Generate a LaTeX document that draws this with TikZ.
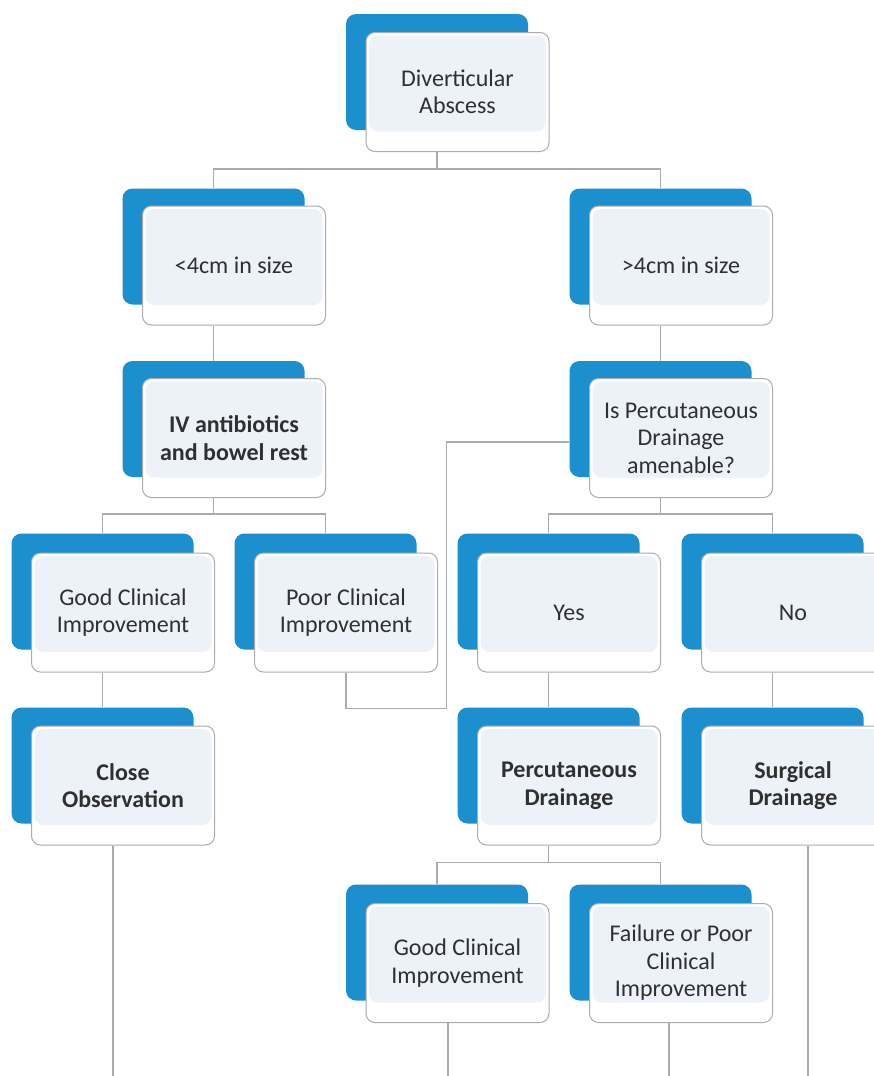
\documentclass[tikz,border=0pt]{standalone}
\usepackage{fontspec}
\setmainfont{Carlito}
\usetikzlibrary{positioning}
\definecolor{blueback}{RGB}{28,143,207}
\definecolor{cardfill}{RGB}{237,242,249}
\definecolor{cardline}{RGB}{172,172,172}
\definecolor{linkgray}{RGB}{168,172,176}
\definecolor{txt}{RGB}{48,48,48}

\begin{document}
\begin{tikzpicture}[x=1pt, y=-1pt, auto]
		% Define elements
		\tikzstyle{line} = [draw=linkgray, line width=1.3pt]
		\tikzstyle{back} = [rectangle, fill=blueback, rounded corners=10pt,
		    minimum width=182pt, minimum height=116pt, inner sep=0pt]
		\tikzstyle{card} = [rectangle, draw=cardline, line width=1pt, fill=white, rounded corners=9pt,
		    minimum width=183pt, minimum height=119pt, inner sep=0pt, align=center, text=txt,
		    font=\fontsize{24}{27.5}\selectfont,
		    path picture={\fill[cardfill] ([shift={(3pt,-3pt)}]path picture bounding box.north west)
		        rectangle ([shift={(-3pt,20pt)}]path picture bounding box.south east);}]
		\tikzstyle{cardbf} = [card, font=\bfseries\fontsize{24}{27.5}\selectfont]
		\path [use as bounding box, fill=white] (0,0) rectangle (874,1076);

		%% Abscess
		\node [name = absc_b, back] at (437,72) {};
		\node [name = absc, card] at ([shift={(20.5,20)}]absc_b) {Diverticular\\Abscess};

		%% Size
		\node [name = small_b, back] at (213.5,246.5) {};
		\node [name = small, card] at ([shift={(20.5,19)}]small_b) {<4cm in size};
		\node [name = large_b, back] at (660.5,246.5) {};
		\node [name = large, card] at ([shift={(20.5,19)}]large_b) {>4cm in size};

		%% Treatment
		\node [name = iv_b, back] at (213.5,419) {};
		\node [name = iv, cardbf] at ([shift={(20.5,19)}]iv_b) {IV antibiotics\\and bowel rest};
		\node [name = percq_b, back] at (660.5,419) {};
		\node [name = percq, card] at ([shift={(20.5,19)}]percq_b) {Is Percutaneous\\Drainage\\amenable?};

		%% Response
		\node [name = good_b, back] at (102.5,591.5) {};
		\node [name = good, card] at ([shift={(20.5,21)}]good_b) {Good Clinical\\Improvement};
		\node [name = poor_b, back] at (325.5,591.5) {};
		\node [name = poor, card] at ([shift={(20.5,21)}]poor_b) {Poor Clinical\\Improvement};
		\node [name = yes_b, back] at (548.5,591.5) {};
		\node [name = yes, card] at ([shift={(20.5,21)}]yes_b) {Yes};
		\node [name = no_b, back] at (772.5,591.5) {};
		\node [name = no, card] at ([shift={(20.5,21)}]no_b) {No};

		%% Management
		\node [name = close_b, back] at (102.5,765.5) {};
		\node [name = close, cardbf] at ([shift={(20.5,20)}]close_b) {Close\\Observation};
		\node [name = pdrain_b, back] at (548.5,765.5) {};
		\node [name = pdrain, cardbf] at ([shift={(20.5,20)}]pdrain_b) {Percutaneous\\Drainage};
		\node [name = sdrain_b, back] at (772.5,765.5) {};
		\node [name = sdrain, cardbf] at ([shift={(20.5,20)}]sdrain_b) {Surgical\\Drainage};

		%% Outcome
		\node [name = goodp_b, back] at (437,942.5) {};
		\node [name = goodp, card] at ([shift={(20.5,20.5)}]goodp_b) {Good Clinical\\Improvement};
		\node [name = fail_b, back] at (660.5,942.5) {};
		\node [name = fail, card] at ([shift={(20.5,20.5)}]fail_b) {Failure or Poor\\Clinical\\Improvement};

		% free ends at the bottom
		\coordinate (close_end) at (113,1076);
		\coordinate (goodp_end) at (448,1076);
		\coordinate (fail_end) at (669,1076);
		\coordinate (sdrain_end) at (808,1076);

	% lines
		\path [line] (absc.south -| absc_b) -- ++(0,17) -| (small_b.north);
		\path [line] (absc.south -| absc_b) -- ++(0,17) -| (large_b.north);
		\path [line] (small.south -| small_b) -- (iv_b.north);
		\path [line] (large.south -| large_b) -- (percq_b.north);
		\path [line] (iv.south -| iv_b) -- ++(0,16) -| (good_b.north);
		\path [line] (iv.south -| iv_b) -- ++(0,16) -| (poor_b.north);
		\path [line] (percq.south -| percq_b) -- ++(0,16) -| (yes_b.north);
		\path [line] (percq.south -| percq_b) -- ++(0,16) -| (no_b.north);
		\path [line] (good.south -| good_b) -- (close_b.north);
		\path [line] (yes.south -| yes_b) -- (pdrain_b.north);
		\path [line] (no.south -| no_b) -- (sdrain_b.north);
		\path [line] (pdrain.south -| pdrain_b) -- ++(0,17) -| (goodp_b.north);
		\path [line] (pdrain.south -| pdrain_b) -- ++(0,17) -| (fail_b.north);
		\path [line] (poor.south) -- ++(0,36) -| ([xshift=-123pt, yshift=-23pt]percq_b.west)
		    -- ([yshift=-23pt]percq_b.west);
		\path [line] (close.south -| close_end) -- (close_end);
		\path [line] (goodp.south -| goodp_end) -- (goodp_end);
		\path [line] (fail.south -| fail_end) -- (fail_end);
		\path [line] (sdrain.south -| sdrain_end) -- (sdrain_end);
	\end{tikzpicture}
\end{document}
